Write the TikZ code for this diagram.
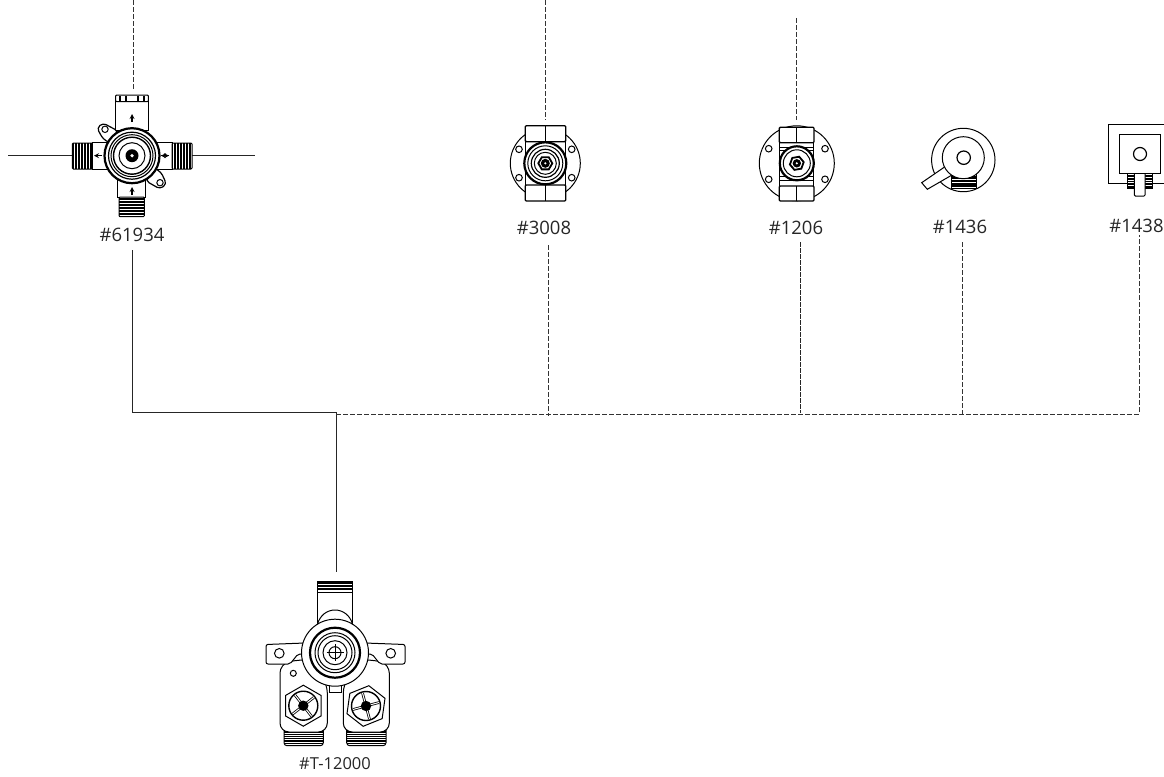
\documentclass[tikz,border=0pt]{standalone}
\usepackage{fontspec}
\setmainfont{Open Sans}
\usetikzlibrary{shapes.geometric,arrows}
\tikzset{
 partlabel/.style={text=black!85,font=\fontsize{18.5}{22}\selectfont,minimum height=30pt,inner sep=0pt},
 leader/.style={line width=0.8pt,black!85},
 dashleader/.style={line width=0.8pt,black!80,dash pattern=on 5pt off 2pt},
 body/.style={draw=black,line width=1pt,fill=white},
 heavy/.style={draw=black,line width=1.5pt,fill=white},
 hexnut/.style={regular polygon,regular polygon sides=6,draw=black,line width=1pt,fill=white,inner sep=0pt}
}
\begin{document}
\begin{tikzpicture}[x=1pt,y=-1pt]
\useasboundingbox (0,0) rectangle (1164,776);
% labels
\node[partlabel] (l61934) at (132,235){\#61934};
\node[partlabel] (l3008) at (544,228){\#3008};
\node[partlabel] (l1206) at (796,228){\#1206};
\node[partlabel] (l1436) at (960,227){\#1436};
\node[partlabel] (l1438) at (1136.5,226){\#1438};
\node[partlabel,font=\fontsize{16.5}{19}\selectfont] (lT) at (335,764){\#T-12000};
% junctions and free ends
\coordinate (jn) at (336,412);
\coordinate (busend) at (1139,414);
\coordinate (jnd) at (336,414);
\coordinate (tA) at (133,0);
\coordinate (bA) at (133,90);
\coordinate (tB) at (545,0);
\coordinate (bB) at (545,120);
\coordinate (tC) at (796,18);
\coordinate (bC) at (796,120);
\coordinate (vT) at (336,572);
\coordinate (leftA) at (8,155.7);
\coordinate (leftB) at (72,155.7);
\coordinate (rightA) at (192,155.7);
\coordinate (rightB) at (255,155.7);
% connectors
\draw[leader](l61934.south) |- (jn) -- (vT);
\draw[leader](leftA)--(leftB)(rightA)--(rightB);
\draw[dashleader](tA)--(bA);
\draw[dashleader](tB)--(bB);
\draw[dashleader](tC)--(bC);
\draw[dashleader](jnd)--(busend)--([shift={(2.5,-6)}]l1438.south);
\draw[dashleader]([shift={(4,2)}]l3008.south)--([shift={(4,2)}]l3008.south |- busend);
\draw[leader,dash pattern=on 5pt off 1pt]([shift={(4,-1)}]l1206.south)--([shift={(4,-1)}]l1206.south |- busend);
\draw[dashleader]([xshift=2pt]l1436.south)--([xshift=2pt]l1436.south |- busend);
% #61934
\draw[body](115.7,101.7) rectangle (148.3,130);
\draw[body,rounded corners=1pt](115.7,101.7)--(115.7,95)--(148.3,95)--(148.3,101.7)--cycle;
\draw[line width=1.4pt](120,95.5)--(120,101.2)(126,95.5)--(126,101.2)(138,95.5)--(138,101.2)(144,95.5)--(144,101.2);
\draw[body](117.7,178) rectangle (145.7,197);
\draw[body,rounded corners=1pt](119,197) rectangle (144.3,216.7);
\foreach \y in {198,199.5,...,216}{\draw[line width=0.9pt](119,\y)--(144.3,\y);}
\draw[body](92,142) rectangle (108,169);
\draw[body](156,142) rectangle (172,169);
\draw[body,rounded corners=1pt](72.3,143) rectangle (92.3,169);
\draw[body,rounded corners=1pt](172,143) rectangle (192,169);
\foreach \x in {73.5,75,...,92}{\draw[line width=0.9pt](\x,143)--(\x,169);}
\foreach \x in {172.5,174,...,191}{\draw[line width=0.9pt](\x,143)--(\x,169);}
\foreach \a/\b in {132/118,132/191}{\draw[very thick,-stealth](\a,\b+4)--(\a,\b-4);}
\draw[very thick,-stealth](102,155.7)--(94,155.7);
\draw[very thick,-stealth](169,155.7)--(161,155.7);
\draw[very thick,-stealth](161,155.7)--(169,155.7);
\draw[heavy,line width=1.2pt,rounded corners=3.5pt](103,139)--(97,128)--(103,123)--(118,131)--(112,144)--cycle;
\draw[body](105,129.3) circle[radius=3.2];
\draw[heavy,line width=1.2pt,rounded corners=3.5pt](161,172)--(166.5,184)--(160,189)--(146,181)--(152,167)--cycle;
\draw[body](160,182.7) circle[radius=3.2];
\draw[heavy,line width=2.2pt](132,155.7) circle[radius=27.5];
\draw[line width=1.2pt](132,155.7) circle[radius=23.5];
\draw[line width=1pt](132,155.7) circle[radius=21];
\draw[line width=1.4pt](132,155.7) circle[radius=18.5];
\draw[body](132,155.7) circle[radius=13];
\fill(132,155.7) circle[radius=6.5];
\fill[white](132,155.7) circle[radius=1.8];
% #3008
\draw[body](545.3,163.3) circle[radius=35];
\foreach \x/\y in {519/149.3,571.7/149.3,519/177.7,571.7/177.7}{\draw[body](\x,\y) circle[radius=3.3];}
\draw[body](525.3,141) rectangle (565.7,186);
\draw[body,line width=1.3pt,rounded corners=1pt](525.3,125.7) rectangle (565.7,141.7);
\draw[body,line width=1.3pt,rounded corners=1pt](525.3,185) rectangle (565.7,201);
\draw[body,line width=1.3pt](545.7,125.7)--(545.7,141.7)(545.7,185)--(545.7,201);
\draw[heavy,line width=2.2pt](545.3,163.3) circle[radius=21];
\draw[line width=1pt](545.3,163.3) circle[radius=17.5];
\draw[line width=1.2pt](545.3,163.3) circle[radius=14];
\draw[line width=1pt](545.3,163.3) circle[radius=11];
\node[hexnut,line width=1.8pt,minimum size=14pt] (hexB) at (545.3,163.3){};
\fill(545.3,163.3) circle[radius=4.5];
\fill[white](545.3,163.3) circle[radius=1.2];
% #1206
\draw[body](796.8,163.3) circle[radius=37.5];
\foreach \x/\y in {768.7/148.7,825/148.7,768.7/179.3,825/179.3}{\draw[body](\x,\y) circle[radius=3.3];}
\draw[body](779.8,142) rectangle (813.5,187);
\draw[line width=1pt](779.8,147)--(813.5,147)(779.8,150)--(813.5,150)(779.8,176)--(813.5,176)(779.8,180)--(813.5,180);
\draw[body,line width=1.3pt,rounded corners=1pt](779.3,127.3) rectangle (814,142.7);
\draw[body,line width=1.3pt,rounded corners=1pt](779.3,186) rectangle (814,201);
\draw[body,line width=1.3pt](796.7,127.3)--(796.7,142.7)(796.7,186)--(796.7,201);
\draw[heavy,line width=2.2pt](796.8,163.3) circle[radius=17];
\draw[line width=1pt](796.8,163.3) circle[radius=13.5];
\node[hexnut,line width=1.8pt,minimum size=14pt,rotate=10] (hexC) at (796.8,163.3){};
\fill(796.8,163.3) circle[radius=4.2];
\fill[white](796.8,163.3) circle[radius=1.2];
% #1436
\draw[body](963.3,160) circle[radius=31.7];
\draw[body](945,166.7)--(921.7,182.7)--(927.3,189.3)--(952,175)--cycle;
\draw[body](951.7,172) rectangle (976.7,188.3);
\foreach \y in {177,178.6,...,188.4}{\draw[line width=1.1pt](951.7,\y)--(976.7,\y);}
\draw[body](963.3,157.7) circle[radius=21];
\draw[body,line width=1.2pt](963.7,157.7) circle[radius=6.7];
% #1438
\draw[line width=1pt](1164,124.3)--(1108.3,124.3)--(1108.3,183.3)--(1164,183.3);
\draw[body](1127.7,173.3) rectangle (1135.7,188.3);
\draw[body](1144.3,173.3) rectangle (1152.3,188.3);
\foreach \y in {175,176.6,...,188}{\draw[line width=1pt](1127.7,\y)--(1135.7,\y)(1144.3,\y)--(1152.3,\y);}
\draw[body,rounded corners=1pt](1134.3,173.3)--(1134.3,196)--(1145,196)--(1145,173.3);
\draw[body](1119.3,134.3) rectangle (1160.7,173.3);
\draw[body,line width=1.2pt](1140,154) circle[radius=6.5];
% #T-12000
\draw[body](317.3,592)--(317.3,630)--(352.7,630)--(352.7,592);
\draw[body](317.3,625) .. controls (322,605) and (348,605) .. (352.7,625);
\draw[body](317.3,581.7) rectangle (352.7,592.3);
\foreach \y in {582.5,583.9,...,590}{\draw[line width=0.9pt](317.3,\y)--(352.7,\y);}
\draw[body,rounded corners=3pt](284,725) rectangle (323.3,745.7);
\draw[body,rounded corners=3pt](346.7,725) rectangle (386,745.7);
\foreach \y in {731,732.8,...,745}{\draw[line width=0.8pt](284,\y)--(323.3,\y)(346.7,\y)--(386,\y);}
\draw[body,rounded corners=9pt](295,660)--(280,664)--(280,732)--(327.3,732)--(327.3,684)--(310,660)--cycle;
\draw[body,rounded corners=9pt](375,660)--(389.3,664)--(389.3,732)--(343.3,732)--(343.3,684)--(360,660)--cycle;
\draw[body,rounded corners=2pt](305,643)--(266,644.5)--(266,664)--(290,664)--(298,654)--(305,654)--cycle;
\draw[body,rounded corners=2pt](365,643)--(405,644.5)--(405,664)--(380,664)--(372,654)--(365,654)--cycle;
\draw[body](279.3,653.3) circle[radius=4.8];
\draw[body](390.7,653.3) circle[radius=4.8];
\draw[body](293.3,673.3) circle[radius=3];
\draw[body](329.3,684) rectangle (341.7,692.3);
\draw[body](335,652.7) circle[radius=33.5];
\draw[heavy,line width=2.2pt](335,652.7) circle[radius=25];
\draw[line width=1pt](335,652.7) circle[radius=20];
\draw[line width=1pt](335,652.7) circle[radius=17];
\draw[body](335,652.7) circle[radius=12];
\draw[line width=1pt](335,652.7) circle[radius=6];
\draw[line width=1pt](335,644)--(335,661.4)(326.5,652.7)--(343.5,652.7);
\node[hexnut,minimum size=41pt,shape border rotate=30] (hexL) at (303.3,705.7){};
\node[hexnut,minimum size=41pt,shape border rotate=30,rotate=-8] (hexR) at (366,706){};
\foreach \x/\y/\r in {303.3/705.7/8,366/706/-15}{
 \draw[heavy,line width=1.4pt](\x,\y) circle[radius=14.5];
 \draw[line width=2.6pt,rotate around={\r+30:(\x,\y)}](\x-13.5,\y)--(\x+13.5,\y)(\x,\y-13.5)--(\x,\y+13.5);
 \draw[white,line width=1pt,rotate around={\r+30:(\x,\y)}](\x-13.5,\y)--(\x+13.5,\y)(\x,\y-13.5)--(\x,\y+13.5);
 \fill(\x,\y) circle[radius=5.2];
}
\end{tikzpicture}
\end{document}
